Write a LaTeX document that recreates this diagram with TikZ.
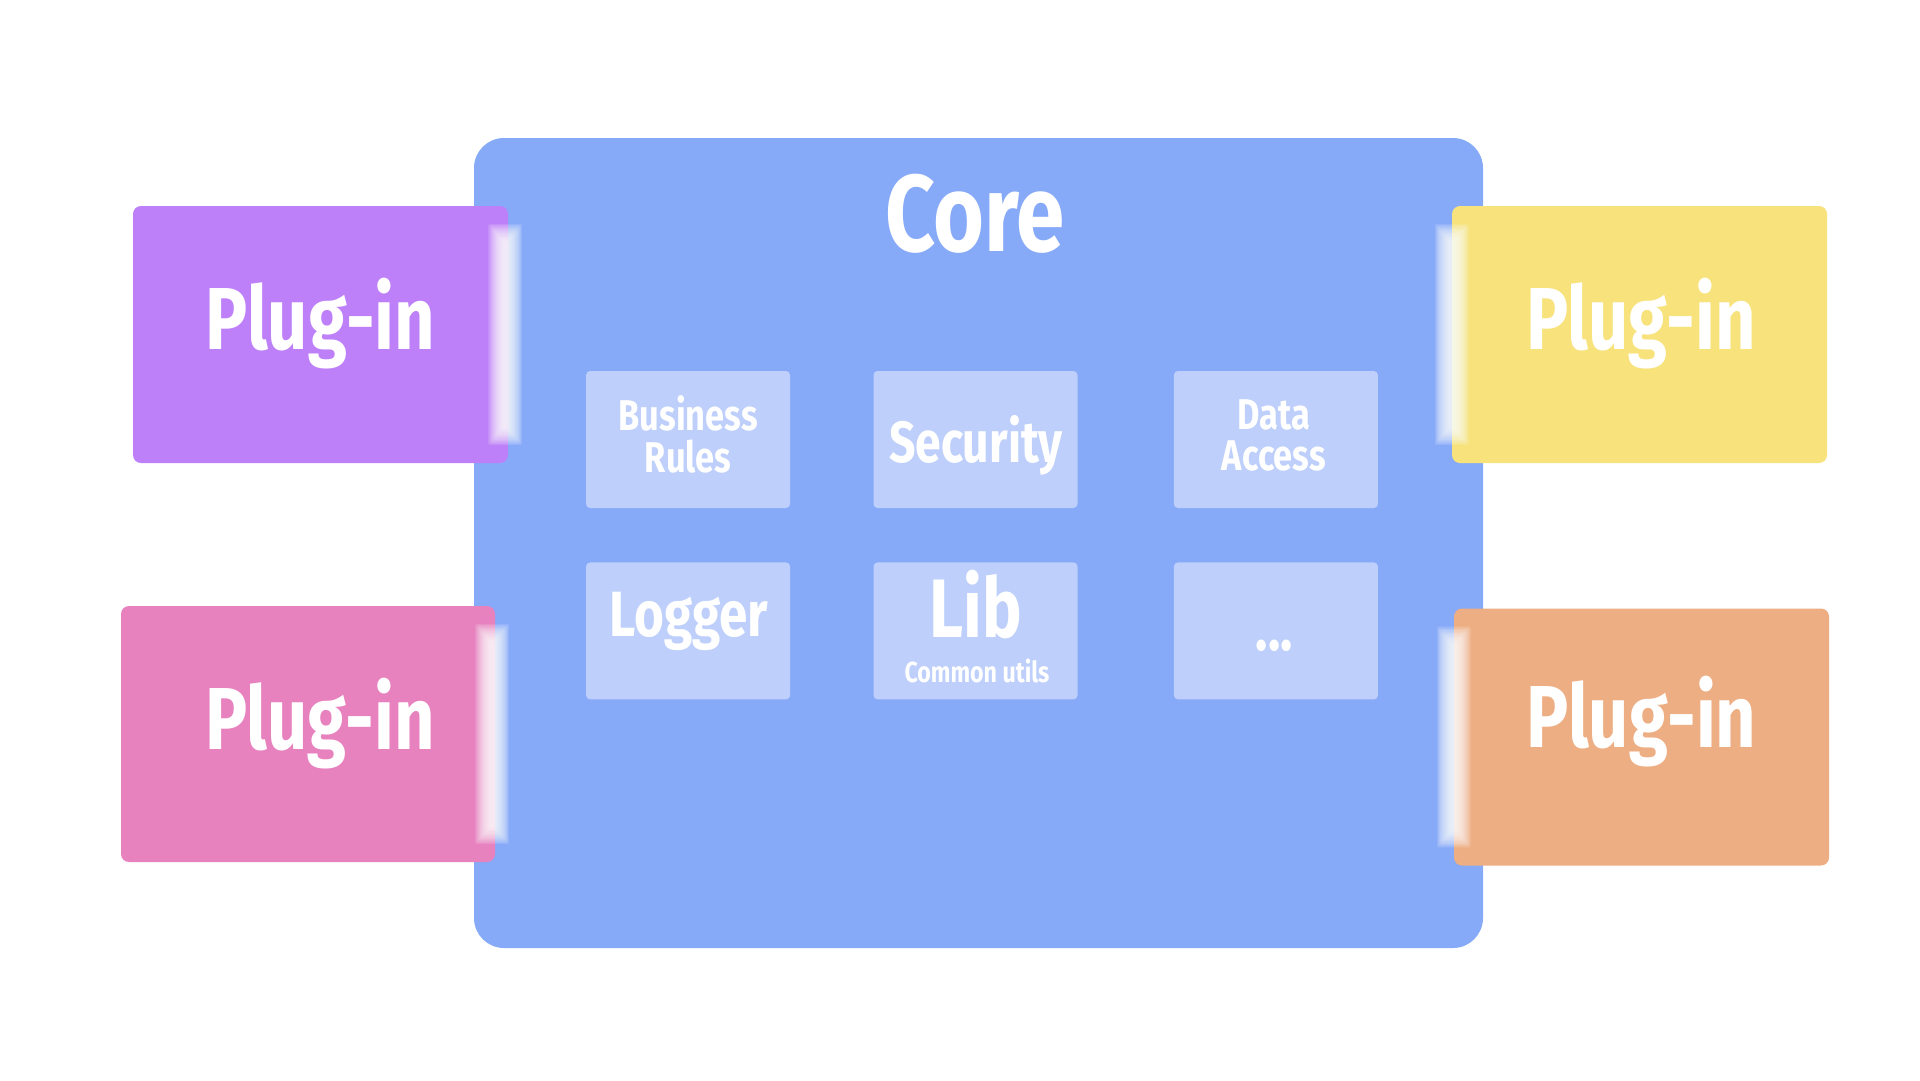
\documentclass[tikz,border=0pt]{standalone}
\usepackage{fontspec}
\setmainfont{Fira Sans}[FakeStretch=0.8]
\usetikzlibrary{calc, positioning}
\definecolor{CoreBlue}{RGB}{134, 169, 248}
\definecolor{ModuleBlue}{RGB}{189, 207, 250}
\definecolor{PlugPurple}{RGB}{190, 128, 248}
\definecolor{PlugYellow}{RGB}{247, 226, 124}
\definecolor{PlugPink}{RGB}{231, 130, 191}
\definecolor{PlugOrange}{RGB}{237, 174, 131}

% soft white glow along the side of a plug-in that touches the core
\newcommand{\edgeglow}[3]{%
  \foreach \k in {0,...,13}
    \fill[white, opacity=0.12, rounded corners=2pt]
      ($(#1.north #2)+(#3-17+1.1*\k, 18+1.3*\k)$) rectangle ($(#1.south #2)+(#3+17-1.1*\k, -18-1.3*\k)$);
}

\begin{document}
\begin{tikzpicture}[
        x=1pt, y=-1pt,
        node distance=54pt and 83pt,
        corebox/.style={fill=CoreBlue, rectangle, rounded corners=30pt, inner sep=0pt, minimum width=1009pt, minimum height=810pt},
        plugbox/.style={rectangle, rounded corners=8pt, inner sep=0pt, minimum width=375pt, minimum height=257pt},
        modbox/.style={fill=ModuleBlue, rectangle, rounded corners=4pt, inner sep=0pt, minimum width=204pt, minimum height=137pt},
        plugtext/.style={text=white, anchor=base, inner sep=0pt, font=\bfseries\fontsize{88}{88}\selectfont},
        modtext/.style={text=white, anchor=base, inner sep=0pt}
      ]
        \fill[white] (0,0) rectangle (1920,1080);

        % Core
        \node [corebox] (core) at (978.5,543) {};
        \node [plugtext, font=\bfseries\fontsize{109}{109}\selectfont] (coretitle) at (975,251) {Core};

        % Modules
        \node [modbox] (security) at (975.5,439.5) {};
        \node [modbox, left=of security] (business) {};
        \node [modbox, right=96pt of security] (data) {};
        \node [modbox, below=of business] (logger) {};
        \node [modbox, below=of security] (lib) {};
        \node [modbox, below=of data] (more) {};

        \node [modtext, align=center, font=\bfseries\fontsize{43}{42}\selectfont] (businesstext) at ($(business.center)+(0,32.5)$) {Business\\Rules};
        \node [modtext, align=center, font=\bfseries\fontsize{43}{41}\selectfont] (datatext) at ($(data.center)+(-2,30.5)$) {Data\\Access};
        \node [modtext, font=\bfseries\fontsize{58}{58}\selectfont] (securitytext) at ($(security.center)+(0.5,22.5)$) {Security};
        \node [modtext, font=\bfseries\fontsize{64}{64}\selectfont] (loggertext) at ($(logger.center)+(0.5,5.5)$) {Logger};
        \node [modtext, font=\bfseries\fontsize{83}{83}\selectfont] (libtext) at ($(lib.center)+(0.5,6.5)$) {Lib};
        \node [modtext, font=\bfseries\fontsize{29}{29}\selectfont] (libsub) at ($(lib.center)+(1.5,51.5)$) {Common utils};
        \node [modtext, font=\bfseries\fontsize{64}{64}\selectfont] (moretext) at ($(more.center)+(-1.5,20)$) {...};

        % Plug-ins
        \node [plugbox, fill=PlugPurple] (plugTL) at (320.5,334.5) {};
        \node [plugbox, fill=PlugYellow] (plugTR) at (1639.5,334.5) {};
        \node [plugbox, fill=PlugPink, minimum width=374pt, minimum height=256pt] (plugBL) at (308,734) {};
        \node [plugbox, fill=PlugOrange] (plugBR) at (1641.5,737) {};

        \node [plugtext] (plugTLtext) at ($(plugTL.center)+(0,14.5)$) {Plug-in};
        \node [plugtext] (plugTRtext) at ($(plugTR.center)+(1.5,14.5)$) {Plug-in};
        \node [plugtext] (plugBLtext) at ($(plugBL.center)+(12,15)$) {Plug-in};
        \node [plugtext] (plugBRtext) at ($(plugBR.center)+(0,10)$) {Plug-in};

        % Glows where the plug-ins meet the core
        \edgeglow{plugTL}{east}{-3}
        \edgeglow{plugBL}{east}{-3}
        \edgeglow{plugTR}{west}{0}
        \edgeglow{plugBR}{west}{0}
      \end{tikzpicture}
\end{document}
